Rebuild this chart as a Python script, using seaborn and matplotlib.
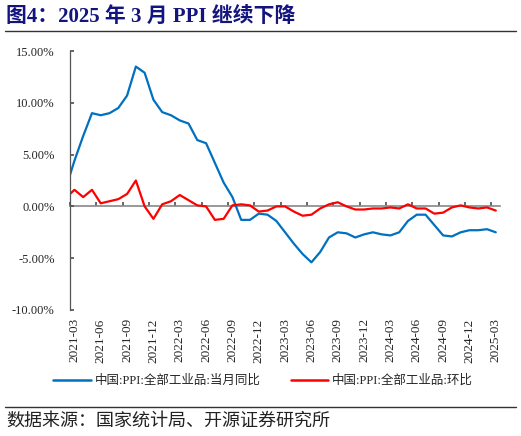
import numpy as np
import pandas as pd
import seaborn as sns
import matplotlib.pyplot as plt
from matplotlib.lines import Line2D

# ===============================
# Data (monthly, 2021-02 .. 2025-03)
# ===============================
months = pd.period_range('2021-02', '2025-03', freq='M').strftime('%Y-%m').tolist()

ppi_yoy = [1.7, 4.4, 6.8, 9.0, 8.8, 9.0, 9.5, 10.7, 13.5, 12.9, 10.3,
           9.1, 8.8, 8.3, 8.0, 6.4, 6.1, 4.2, 2.3, 0.9, -1.3, -1.3, -0.7,
           -0.8, -1.4, -2.5, -3.6, -4.6, -5.4, -4.4, -3.0, -2.5, -2.6, -3.0, -2.7,
           -2.5, -2.7, -2.8, -2.5, -1.4, -0.8, -0.8, -1.8, -2.8, -2.9, -2.5, -2.3,
           -2.3, -2.2, -2.5]

ppi_mom = [0.8, 1.6, 0.9, 1.6, 0.3, 0.5, 0.7, 1.2, 2.5, 0.0, -1.2,
           0.2, 0.5, 1.1, 0.6, 0.1, 0.0, -1.3, -1.2, 0.1, 0.2, 0.1, -0.5,
           -0.4, 0.0, 0.0, -0.5, -0.9, -0.8, -0.2, 0.2, 0.4, 0.0, -0.3, -0.3,
           -0.2, -0.2, -0.1, -0.2, 0.2, -0.2, -0.2, -0.7, -0.6, -0.1, 0.1, -0.1,
           -0.2, -0.1, -0.4]

label_yoy = '中国:PPI:全部工业品:当月同比'
label_mom = '中国:PPI:全部工业品:环比'

df = pd.DataFrame({'idx': np.arange(len(months)), 'month': months,
                   label_yoy: ppi_yoy, label_mom: ppi_mom})
long = df.melt(id_vars=['idx', 'month'], var_name='series', value_name='value')

# ===============================
# Style
# ===============================
sns.set_theme(style='white')
fonts = ['Liberation Serif', 'Noto Sans CJK SC']
plt.rcParams['font.family'] = fonts
plt.rcParams['axes.unicode_minus'] = False

fig = plt.figure(figsize=(5.21, 4.36), dpi=100)
ax = fig.add_axes([0.1344, 0.289, 0.8256, 0.594])

sns.lineplot(data=long, x='idx', y='value', hue='series',
             palette={label_yoy: '#0070C0', label_mom: '#FF0000'},
             linewidth=1.6, ax=ax, legend=False)

ax.set_xlim(0.5, len(months) - 0.5)
ax.set_ylim(-10, 15)
ax.set_yticks(np.arange(-10, 16, 5))
ax.set_yticklabels([f'{v:.2f}%' for v in np.arange(-10, 16, 5)], fontsize=9)
ax.tick_params(axis='y', direction='in', length=3, color='#555555', pad=11, left=True)

label_pos = list(range(1, len(months), 3))
ax.set_xticks(label_pos)
ax.set_xticklabels([months[i] for i in label_pos], rotation=90, fontsize=9.5)
ax.tick_params(axis='x', length=0, pad=6)
ax.set_xlabel('')
ax.set_ylabel('')

for s in ['top', 'right', 'bottom']:
    ax.spines[s].set_visible(False)
ax.spines['left'].set_color('#555555')
ax.spines['left'].set_linewidth(0.9)

# zero line with category boundary ticks
zero = ax.secondary_xaxis(0, transform=ax.transData)
zero.set_xticks([i - 0.5 for i in label_pos])
zero.tick_params(axis='x', direction='in', length=3, color='#555555', labelbottom=False)
zero.spines['bottom'].set_color('#888888')
zero.spines['bottom'].set_linewidth(1.2)

# legend
handles = [Line2D([], [], color='#0070C0', lw=1.8), Line2D([], [], color='#FF0000', lw=1.8)]
fig.legend(handles, [label_yoy, label_mom], loc='center', bbox_to_anchor=(0.505, 0.126),
           ncol=2, frameon=False, fontsize=9, handlelength=3.0, columnspacing=2.4,
           handletextpad=0.3)

# title and source
fig.text(0.012, 0.962, '图4：2025 年 3 月 PPI 继续下降', fontsize=15, fontweight='bold',
         color='#14147F', va='center', ha='left')
fig.add_artist(Line2D([0.01, 0.99], [0.929, 0.929], color='#333333', lw=1.0))
fig.add_artist(Line2D([0.01, 0.99], [0.067, 0.067], color='#333333', lw=1.0))
fig.text(0.012, 0.035, '数据来源：国家统计局、开源证券研究所', fontsize=13,
         color='#222222', va='center', ha='left')

fig.savefig('out.png', dpi=100)
